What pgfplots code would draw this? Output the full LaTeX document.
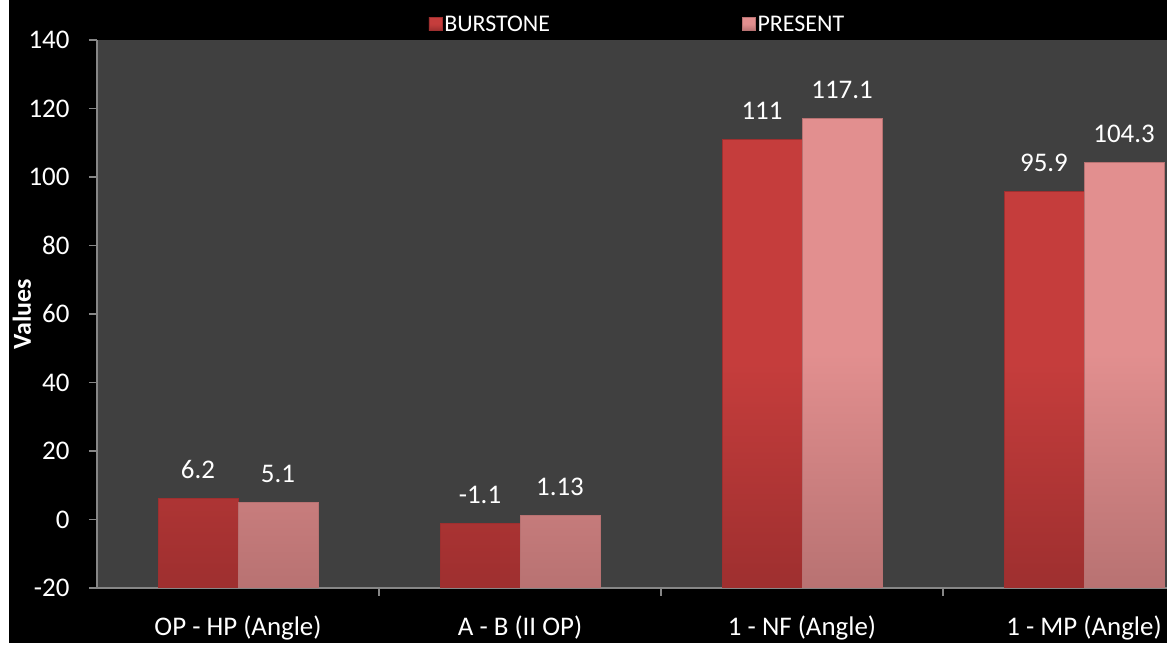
\documentclass[border=0pt]{standalone}
\usepackage{fontspec}
\setmainfont{Carlito}
\usepackage{pgfplots}
\usepackage{pgfplotstable}
\pgfplotsset{compat=1.18}
\definecolor{plotbg}{HTML}{404040}
\definecolor{burst}{HTML}{C53D3C}
\definecolor{burstdark}{HTML}{9E2F2F}
\definecolor{pres}{HTML}{E28F8F}
\definecolor{presdark}{HTML}{B87272}
\definecolor{axisgray}{HTML}{868686}
\newcommand\lbl{\fontsize{27}{32}\selectfont}

\pgfplotstableread{
x y label
0 6.2 6.2
1 -1.1 -1.1
2 111 111
3 95.9 95.9
}\burstone
\pgfplotstableread{
x y label
0 5.1 5.1
1 1.13 1.13
2 117.1 117.1
3 104.3 104.3
}\present

\begin{document}
\begin{tikzpicture}
\useasboundingbox (0bp,0bp) rectangle (1167bp,645bp);
\fill[white] (0bp,0bp) rectangle (1167bp,645bp);
\fill[black] (9bp,2bp) rectangle (1167bp,645bp);
\begin{axis}[
  at={(97bp,57bp)}, anchor=south west,
  scale only axis, width=1070bp, height=548bp,
  ybar=0pt, bar width=80bp,
  xmin=-0.5, xmax=3.2943, ymin=-20, ymax=140,
  y coord trafo/.code={\pgfmathparse{#1+20}},
  y coord inv trafo/.code={\pgfmathparse{#1-20}},
  ytick={-20,0,20,40,60,80,100,120,140},
  axis background/.style={fill=plotbg},
  axis x line*=bottom, axis y line*=left,
  axis line style={axisgray, line width=1.2bp},
  tick style={axisgray, line width=1.2bp},
  tick align=outside,
  major tick length=8bp,
  xtick={0.5,1.5,2.5}, xticklabels={},
  extra x ticks={0,1,2,3},
  extra x tick labels={OP - HP (Angle), A - B (II OP), 1 - NF (Angle), 1 - MP (Angle)},
  extra x tick style={major tick length=0pt},
  xticklabel style={text=white, font=\lbl, anchor=north, yshift=-24bp},
  yticklabel style={text=white, font=\lbl, xshift=-16bp},
  /pgf/number format/assume math mode=true,
  ylabel={Values},
  ylabel style={at={(axis description cs:-0.0701,0.5)}, anchor=center, rotate=0, text=white, font=\fontsize{26}{30}\selectfont\bfseries},
  nodes near coords,
  point meta=explicit symbolic,
  every node near coord/.append style={text=white, font=\lbl, yshift=16bp},
  legend columns=2,
  legend style={draw=none, fill=none, text=white, font=\fontsize{24}{28}\selectfont,
    at={(0.307,1)}, anchor=west, yshift=16bp,
    /tikz/every even column/.append style={column sep=190bp}},
  legend image code/.code={\path[#1] (-2bp,-6.5bp) rectangle (11bp,6.5bp);},
]
\addplot[draw=burstdark, line width=0.6bp, top color=burst, bottom color=burstdark, middle color=burst]
  table[x=x, y=y, meta=label] {\burstone};
\addplot[draw=presdark, line width=0.6bp, top color=pres, bottom color=presdark, middle color=pres]
  table[x=x, y=y, meta=label] {\present};
\legend{BURSTONE, PRESENT}
\end{axis}
\end{tikzpicture}
\end{document}
